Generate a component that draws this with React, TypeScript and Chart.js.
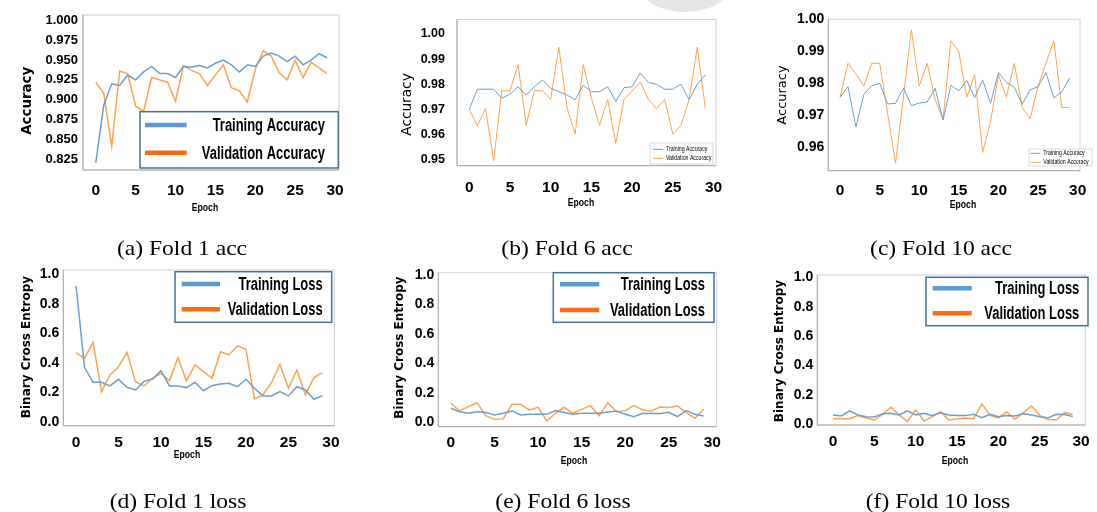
import React, { useEffect, useRef } from 'react';
import { Chart, registerables } from 'chart.js';

Chart.register(...registerables);

// ---------------- data ----------------
const EPOCHS = [0, 1, 2, 3, 4, 5, 6, 7, 8, 9, 10, 11, 12, 13, 14, 15, 16, 17, 18, 19, 20, 21, 22, 23, 24, 25, 26, 27, 28, 29];
const X_TICKS = [0, 5, 10, 15, 20, 25, 30];

const F1_TRAIN_ACC = [0.820, 0.893, 0.920, 0.918, 0.931, 0.925, 0.935, 0.942, 0.933, 0.933, 0.928, 0.942, 0.941, 0.943, 0.940, 0.946, 0.950, 0.944, 0.935, 0.944, 0.942, 0.955, 0.959, 0.955, 0.948, 0.955, 0.944, 0.950, 0.958, 0.953];
const F1_VAL_ACC = [0.922, 0.908, 0.841, 0.936, 0.933, 0.892, 0.885, 0.928, 0.925, 0.922, 0.898, 0.943, 0.937, 0.933, 0.918, 0.931, 0.944, 0.915, 0.911, 0.897, 0.938, 0.962, 0.955, 0.934, 0.925, 0.950, 0.928, 0.947, 0.940, 0.933];

const F6_TRAIN_ACC = [0.970, 0.978, 0.978, 0.978, 0.9744, 0.976, 0.979, 0.9756, 0.979, 0.9817, 0.9784, 0.977, 0.9757, 0.9738, 0.9796, 0.977, 0.977, 0.979, 0.9731, 0.9786, 0.979, 0.9845, 0.9806, 0.980, 0.978, 0.978, 0.980, 0.9738, 0.980, 0.9838];
const F6_VAL_ACC = [0.970, 0.9634, 0.9703, 0.9495, 0.9774, 0.9774, 0.9878, 0.9636, 0.9774, 0.9774, 0.9739, 0.9948, 0.9708, 0.9601, 0.9878, 0.9744, 0.9636, 0.9739, 0.9565, 0.9739, 0.9773, 0.9809, 0.9739, 0.9703, 0.9739, 0.9601, 0.9636, 0.9739, 0.9948, 0.9703];

const F10_TRAIN_ACC = [0.9757, 0.979, 0.9664, 0.9766, 0.9793, 0.980, 0.9736, 0.9738, 0.9785, 0.9731, 0.9739, 0.9742, 0.9785, 0.9686, 0.9794, 0.9777, 0.9809, 0.9756, 0.9811, 0.9738, 0.9834, 0.9803, 0.9788, 0.9735, 0.978, 0.979, 0.9834, 0.9755, 0.9774, 0.9817];
const F10_VAL_ACC = [0.9757, 0.9863, 0.983, 0.9792, 0.9863, 0.9863, 0.9707, 0.9551, 0.9759, 0.9967, 0.9792, 0.9863, 0.9749, 0.9688, 0.9933, 0.9898, 0.9757, 0.9827, 0.9585, 0.9681, 0.9827, 0.9757, 0.9863, 0.9725, 0.9690, 0.9792, 0.9863, 0.9933, 0.9725, 0.9725];

const F1_TRAIN_LOSS = [0.92, 0.371, 0.27, 0.27, 0.245, 0.29, 0.236, 0.218, 0.276, 0.292, 0.348, 0.245, 0.245, 0.234, 0.27, 0.213, 0.247, 0.258, 0.263, 0.24, 0.29, 0.229, 0.178, 0.178, 0.207, 0.178, 0.24, 0.218, 0.155, 0.18];
const F1_VAL_LOSS = [0.47, 0.431, 0.539, 0.207, 0.319, 0.375, 0.472, 0.274, 0.245, 0.297, 0.33, 0.281, 0.436, 0.279, 0.387, 0.342, 0.297, 0.476, 0.454, 0.515, 0.492, 0.157, 0.184, 0.267, 0.391, 0.229, 0.353, 0.184, 0.301, 0.335];

const F6_TRAIN_LOSS = [0.095, 0.072, 0.061, 0.072, 0.066, 0.05, 0.061, 0.077, 0.05, 0.054, 0.054, 0.054, 0.079, 0.066, 0.054, 0.061, 0.061, 0.061, 0.07, 0.077, 0.054, 0.038, 0.061, 0.059, 0.059, 0.068, 0.038, 0.079, 0.054, 0.043];
const F6_VAL_LOSS = [0.129, 0.077, 0.106, 0.133, 0.045, 0.02, 0.023, 0.122, 0.122, 0.084, 0.102, 0.009, 0.061, 0.102, 0.061, 0.088, 0.113, 0.045, 0.133, 0.072, 0.079, 0.113, 0.084, 0.077, 0.104, 0.1, 0.111, 0.066, 0.027, 0.09];

const F10_TRAIN_LOSS = [0.061, 0.055, 0.089, 0.061, 0.05, 0.048, 0.07, 0.073, 0.061, 0.089, 0.061, 0.073, 0.057, 0.077, 0.061, 0.057, 0.057, 0.066, 0.043, 0.066, 0.05, 0.057, 0.055, 0.07, 0.061, 0.05, 0.041, 0.066, 0.064, 0.05];
const F10_VAL_LOSS = [0.036, 0.036, 0.036, 0.057, 0.041, 0.027, 0.066, 0.114, 0.061, 0.016, 0.095, 0.02, 0.05, 0.084, 0.027, 0.034, 0.041, 0.036, 0.136, 0.059, 0.041, 0.082, 0.032, 0.077, 0.123, 0.059, 0.03, 0.027, 0.077, 0.064];

const ACC_TICKS_F1 = [0.825, 0.85, 0.875, 0.9, 0.925, 0.95, 0.975, 1.0];
const ACC_TICKS_F6 = [0.95, 0.96, 0.97, 0.98, 0.99, 1.0];
const ACC_TICKS_F10 = [0.96, 0.97, 0.98, 0.99, 1.0];
const LOSS_TICKS = [0, 0.2, 0.4, 0.6, 0.8, 1.0];

const ACC_NAMES = ['Training Accuracy', 'Validation Accuracy'];
const LOSS_NAMES = ['Training Loss', 'Validation Loss'];
const ACC_TITLE = 'Accuracy';
const LOSS_TITLE = 'Binary Cross Entropy';
const X_TITLE = 'Epoch';
const CAPTIONS = ['(a) Fold 1 acc', '(b) Fold 6 acc', '(c) Fold 10 acc', '(d) Fold 1 loss', '(e) Fold 6 loss', '(f) Fold 10 loss'];

// ---------------- styles ----------------
const W = 1097;
const H = 512;
const YW = 60;
const XH = 40;
const BLUE = '#6a9fd2';
const ORANGE = '#ffa24a';
const LEG_BLUE = '#5b9bd5';
const LEG_ORANGE = '#ff6a10';
const SANS = "'Liberation Sans', Arial, sans-serif";
const DJV = "'DejaVu Sans', sans-serif";

type Legend = {
  box: number[]; border: string; bw: number; lines: number[]; lineW: number;
  colors: string[]; rows: number[]; dy: number; textX: number; align: CanvasTextAlign; font: string; sx: number;
};
type Panel = {
  train: number[]; val: number[]; names: string[]; yTicks: number[]; dec: number;
  area: { l: number; t: number; r: number; b: number };
  xr: number[]; yr: number[]; lw: number;
  yFont: any; yPad: number; xPad: number;
  yTitle: { text: string; x: number; y: number; font: string };
  xTitle: { x: number; y: number };
  legend: Legend;
};

const bigLegend = (box: number[], lines: number[], rows: number[], textX: number): Legend => ({
  box, border: '#41719c', bw: 1.5, lines, lineW: 4.5, colors: [LEG_BLUE, LEG_ORANGE], rows, dy: 1,
  textX, align: 'right', font: `bold 18px ${SANS}`, sx: 0.72,
});
const smallLegend = (box: number[], lines: number[], rows: number[], textX: number): Legend => ({
  box, border: '#cfcfcf', bw: 0.8, lines, lineW: 1, colors: [BLUE, ORANGE], rows, dy: 0.3,
  textX, align: 'left', font: `6.5px ${SANS}`, sx: 0.8,
});

const PANELS: Panel[] = [
  {
    train: F1_TRAIN_ACC, val: F1_VAL_ACC, names: ACC_NAMES, yTicks: ACC_TICKS_F1, dec: 3,
    area: { l: 83, t: 15, r: 339, b: 170 }, xr: [-1.6, 30.5], yr: [0.811, 1.007], lw: 1.5,
    yFont: { family: SANS, size: 13, weight: 'bold' }, yPad: 5, xPad: 11.7,
    yTitle: { text: ACC_TITLE, x: 28, y: 100.8, font: `bold 13.4px ${DJV}` },
    xTitle: { x: 205, y: 208 },
    legend: bigLegend([140, 111.7, 338.3, 168], [145, 186.7], [125, 152.7], 325),
  },
  {
    train: F6_TRAIN_ACC, val: F6_VAL_ACC, names: ACC_NAMES, yTicks: ACC_TICKS_F6, dec: 2,
    area: { l: 457, t: 16, r: 716, b: 165.7 }, xr: [-1.5, 30.3], yr: [0.9475, 1.0058], lw: 1,
    yFont: { family: SANS, size: 12.5, weight: 'bold' }, yPad: 12, xPad: 12.7,
    yTitle: { text: ACC_TITLE, x: 407, y: 104.5, font: `13.7px ${DJV}` },
    xTitle: { x: 581, y: 203 },
    legend: smallLegend([650, 143, 713, 164], [652.7, 663.3], [149.3, 158.3], 666),
  },
  {
    train: F10_TRAIN_ACC, val: F10_VAL_ACC, names: ACC_NAMES, yTicks: ACC_TICKS_F10, dec: 2,
    area: { l: 828.3, t: 19.3, r: 1093, b: 170.7 }, xr: [-1.49, 30.3], yr: [0.9528, 1.0], lw: 1,
    yFont: { family: SANS, size: 14, weight: 'bold' }, yPad: 4, xPad: 10.7,
    yTitle: { text: ACC_TITLE, x: 783, y: 95, font: `13px ${DJV}` },
    xTitle: { x: 963, y: 205 },
    legend: smallLegend([1029, 149, 1092, 166], [1030.5, 1040.7], [153.3, 162.3], 1043.3),
  },
  {
    train: F1_TRAIN_LOSS, val: F1_VAL_LOSS, names: LOSS_NAMES, yTicks: LOSS_TICKS, dec: 1,
    area: { l: 63.3, t: 270, r: 334.3, b: 425.7 }, xr: [-1.5, 30.4], yr: [-0.023, 1.027], lw: 1.5,
    yFont: { family: SANS, size: 14, weight: 'bold' }, yPad: 4, xPad: 7.7,
    yTitle: { text: LOSS_TITLE, x: 27, y: 347, font: `bold 12px ${DJV}` },
    xTitle: { x: 187, y: 455 },
    legend: bigLegend([175, 271.7, 331.7, 322.3], [181.7, 220], [284, 309.3], 322.7),
  },
  {
    train: F6_TRAIN_LOSS, val: F6_VAL_LOSS, names: LOSS_NAMES, yTicks: LOSS_TICKS, dec: 1,
    area: { l: 438.3, t: 272.7, r: 716.7, b: 426.7 }, xr: [-1.45, 30.5], yr: [-0.03, 1.0157], lw: 1.5,
    yFont: { family: SANS, size: 14, weight: 'bold' }, yPad: 4, xPad: 6.7,
    yTitle: { text: LOSS_TITLE, x: 400, y: 347.5, font: `bold 12px ${DJV}` },
    xTitle: { x: 574, y: 461 },
    legend: bigLegend([553.3, 272.7, 714, 322.3], [560, 599.3], [284.3, 310], 705),
  },
  {
    train: F10_TRAIN_LOSS, val: F10_VAL_LOSS, names: LOSS_NAMES, yTicks: LOSS_TICKS, dec: 1,
    area: { l: 817.3, t: 275, r: 1091, b: 425 }, xr: [-1.9, 30.5], yr: [-0.007, 1.016], lw: 1.5,
    yFont: { family: SANS, size: 14, weight: 'bold' }, yPad: 4, xPad: 7.2,
    yTitle: { text: LOSS_TITLE, x: 780, y: 351, font: `bold 12px ${DJV}` },
    xTitle: { x: 955, y: 461 },
    legend: bigLegend([926, 277.3, 1088, 325.7], [932.7, 971.7], [288.3, 313.3], 1079.3),
  },
];

const CAPTION_POS = [
  { cx: 181.5, base: 255 }, { cx: 567, base: 255 }, { cx: 941, base: 255 },
  { cx: 178, base: 508 }, { cx: 563, base: 508 }, { cx: 938, base: 508 },
];

// ---------------- plugin ----------------
function drawText(ctx: CanvasRenderingContext2D, text: string, x: number, y: number, font: string, align: CanvasTextAlign, sx: number) {
  ctx.save();
  ctx.translate(x, y);
  ctx.scale(sx, 1);
  ctx.font = font;
  ctx.textAlign = align;
  ctx.textBaseline = 'middle';
  ctx.fillStyle = '#000';
  ctx.fillText(text, 0, 0);
  ctx.restore();
}

const decorPlugin = {
  id: 'decor',
  afterDatasetsDraw(chart: any, _args: any, opts: any) {
    const { ctx, chartArea: a } = chart;
    ctx.save();
    // frame
    ctx.lineWidth = 1;
    ctx.strokeStyle = '#d2d2d2';
    ctx.strokeRect(a.left, a.top, a.right - a.left, a.bottom - a.top);
    ctx.strokeStyle = '#a8a8a8';
    ctx.beginPath();
    ctx.moveTo(a.left, a.top);
    ctx.lineTo(a.left, a.bottom);
    ctx.lineTo(a.right, a.bottom);
    ctx.stroke();
    // legend
    const lg: Legend = opts.legend;
    const [x0, y0, x1, y1] = lg.box;
    ctx.fillStyle = '#ffffff';
    ctx.fillRect(x0, y0, x1 - x0, y1 - y0);
    ctx.strokeStyle = lg.border;
    ctx.lineWidth = lg.bw;
    ctx.strokeRect(x0, y0, x1 - x0, y1 - y0);
    chart.data.datasets.forEach((ds: any, i: number) => {
      const y = lg.rows[i];
      ctx.strokeStyle = lg.colors[i];
      ctx.lineWidth = lg.lineW;
      ctx.beginPath();
      ctx.moveTo(lg.lines[0], y);
      ctx.lineTo(lg.lines[1], y);
      ctx.stroke();
      drawText(ctx, ds.label, lg.textX, y + lg.dy, lg.font, lg.align, lg.sx);
    });
    ctx.restore();
  },
  afterDraw(chart: any, _args: any, opts: any) {
    const { ctx } = chart;
    const yt = opts.yTitle;
    ctx.save();
    ctx.translate(yt.x, yt.y);
    ctx.rotate(-Math.PI / 2);
    drawText(ctx, yt.text, 0, 0, yt.font, 'center', 1);
    ctx.restore();
    drawText(ctx, X_TITLE, opts.xTitle.x, opts.xTitle.y, `bold 11.5px ${SANS}`, 'center', 0.75);
  },
};

function PanelChart({ p }: { p: Panel }) {
  const ref = useRef<HTMLCanvasElement>(null);
  useEffect(() => {
    if (!ref.current) return;
    const chart = new Chart(ref.current, {
      type: 'line',
      data: {
        datasets: [
          {
            label: p.names[0],
            data: EPOCHS.map((e, i) => ({ x: e, y: p.train[i] })),
            borderColor: BLUE, borderWidth: p.lw, pointRadius: 0, tension: 0, fill: false,
          },
          {
            label: p.names[1],
            data: EPOCHS.map((e, i) => ({ x: e, y: p.val[i] })),
            borderColor: ORANGE, borderWidth: p.lw, pointRadius: 0, tension: 0, fill: false,
          },
        ],
      },
      options: {
        responsive: false,
        animation: false,
        events: [],
        layout: {
          padding: { left: p.area.l - YW, right: W - p.area.r, top: p.area.t, bottom: H - p.area.b - XH },
        },
        scales: {
          x: {
            type: 'linear', min: p.xr[0], max: p.xr[1],
            grid: { display: false, drawTicks: false }, border: { display: false },
            afterBuildTicks: (s: any) => { s.ticks = X_TICKS.map((v) => ({ value: v })); },
            afterFit: (s: any) => { s.height = XH; },
            ticks: {
              autoSkip: false, maxRotation: 0, padding: p.xPad, color: '#000',
              font: { family: SANS, size: 15.5, weight: 'bold' },
            },
          },
          y: {
            type: 'linear', min: p.yr[0], max: p.yr[1],
            grid: { display: false, drawTicks: false }, border: { display: false },
            afterBuildTicks: (s: any) => { s.ticks = p.yTicks.map((v) => ({ value: v })); },
            afterFit: (s: any) => { s.width = YW; },
            ticks: {
              autoSkip: false, padding: p.yPad, color: '#000', font: p.yFont,
              callback: (v: any) => Number(v).toFixed(p.dec),
            },
          },
        },
        plugins: {
          legend: { display: false },
          tooltip: { enabled: false },
          decor: { legend: p.legend, yTitle: p.yTitle, xTitle: p.xTitle },
        } as any,
      },
      plugins: [decorPlugin],
    });
    return () => chart.destroy();
  }, [p]);
  return (
    <canvas
      ref={ref}
      width={W}
      height={H}
      style={{ position: 'absolute', left: 0, top: 0, width: W, height: H, pointerEvents: 'none' }}
    />
  );
}

export default function App() {
  return (
    <div style={{ position: 'absolute', left: 0, top: 0, width: W, height: H, background: '#fff', overflow: 'hidden' }}>
      <div
        style={{
          position: 'absolute', left: 641, top: -38, width: 88, height: 50, borderRadius: '50%', background: '#e6e6e6',
        }}
      />
      {PANELS.map((p, i) => (
        <PanelChart key={i} p={p} />
      ))}
      {CAPTIONS.map((c, i) => (
        <div
          key={c}
          style={{
            position: 'absolute', left: CAPTION_POS[i].cx - 120, width: 240, top: CAPTION_POS[i].base - 18.5,
            textAlign: 'center', fontFamily: "'Liberation Serif', 'Times New Roman', serif", fontSize: 22,
            lineHeight: '22px', color: '#000', whiteSpace: 'nowrap', transform: 'scaleX(1.07)',
          }}
        >
          {c}
        </div>
      ))}
    </div>
  );
}
